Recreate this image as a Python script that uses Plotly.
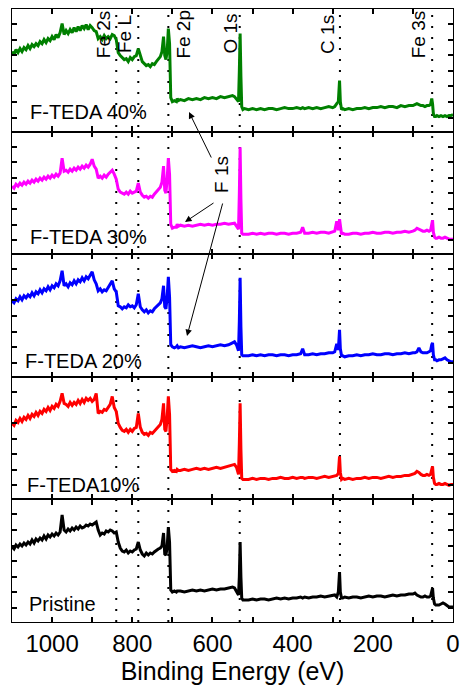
import plotly.graph_objects as go

# ---------------- data (arbitrary intensity units) -------------
energy = (list(range(1100, 725, -5))                                   # 75 pts
          + [726, 722, 719, 716, 713, 710, 707, 704, 700, 695, 690, 688, 685]  # 13
          + list(range(680, 545, -10))                                 # 14
          + [545, 540, 535, 533, 531, 529, 527, 524, 520]              # 9
          + list(range(510, 375, -10))                                 # 14
          + [375] + list(range(370, 295, -10))                         # 9
          + [295, 290, 286, 283, 281, 278, 275, 270]                   # 8
          + list(range(260, 95, -10))                                  # 17
          + [95, 90, 85, 80, 75, 70, 65, 60, 56, 53, 51, 49, 46, 43, 40,
             35, 30, 25, 20, 15, 10, 5, 0])                            # 23

teda40 = ([80, 77, 82, 79, 83, 80, 84, 82, 86, 83,
           87, 85, 88, 86, 90, 88, 92, 89, 93, 91,
           95, 92, 97, 94, 99, 108, 97, 101, 98, 102,
           99, 104, 100, 105, 101, 106, 103, 107, 102, 106,
           104, 101, 100, 93, 95, 92, 96, 93, 95, 93,
           97, 96, 92, 79, 76, 74, 72, 73, 70, 74,
           72, 75, 76, 83, 75, 70, 68, 66, 67, 65,
           68, 67, 70, 72, 75]
          + [80, 95, 76, 72, 80, 103, 88, 34, 30, 31, 30, 33, 31]
          + [32, 31, 33, 32, 33, 32, 34, 33, 34, 33, 35, 34, 35, 36]
          + [35, 33, 30, 60, 98, 55, 25, 22, 23]
          + [22, 23, 22, 23, 22, 23, 23, 22, 23, 24, 23, 23, 24, 23]
          + [24, 23, 24, 23, 24, 23, 24, 25, 24]
          + [25, 28, 30, 51, 30, 22, 23, 22]
          + [23, 22, 23, 23, 24, 23, 24, 24, 25, 24, 25, 25, 24, 26, 25, 26, 26]
          + [27, 28, 27, 26, 26, 25, 26, 26, 27, 33, 28, 18, 15, 15, 16, 15,
             16, 15, 16, 15, 16, 16, 17])

teda30 = ([68, 66, 70, 68, 71, 69, 72, 70, 73, 71,
           74, 72, 75, 73, 76, 74, 77, 75, 78, 76,
           79, 77, 80, 78, 81, 96, 83, 84, 82, 85,
           83, 86, 84, 87, 85, 88, 86, 89, 87, 90,
           95, 88, 85, 76, 78, 76, 79, 77, 80, 82,
           84, 80, 75, 65, 62, 61, 60, 62, 60, 63,
           61, 62, 63, 71, 62, 59, 57, 58, 56, 58,
           57, 60, 62, 64, 67]
          + [72, 88, 64, 61, 75, 96, 80, 30, 26, 27, 27, 30, 28]
          + [29, 28, 29, 28, 29, 30, 29, 30, 29, 30, 30, 31, 30, 31]
          + [31, 28, 25, 60, 107, 55, 21, 20, 20]
          + [20, 21, 20, 21, 20, 21, 21, 20, 21, 21, 20, 21, 21, 22]
          + [27, 21, 21, 22, 21, 22, 22, 21, 22]
          + [23, 33, 24, 35, 30, 20, 21, 20]
          + [20, 21, 21, 20, 21, 21, 22, 21, 21, 22, 22, 21, 22, 22, 23, 22, 23]
          + [24, 26, 25, 24, 23, 23, 24, 23, 24, 30, 34, 22, 17, 16, 16, 17,
             16, 16, 17, 16, 15, 15, 15])

teda20 = ([76, 74, 78, 76, 80, 77, 81, 79, 82, 80,
           84, 81, 85, 83, 87, 84, 88, 86, 90, 87,
           91, 89, 93, 91, 96, 106, 91, 93, 90, 94,
           92, 96, 93, 97, 95, 99, 96, 100, 98, 102,
           105, 97, 93, 86, 88, 85, 87, 86, 89, 93,
           96, 88, 85, 71, 70, 68, 70, 69, 72, 70,
           71, 69, 72, 83, 70, 67, 65, 67, 64, 66,
           65, 68, 70, 72, 74]
          + [78, 91, 70, 68, 80, 100, 80, 32, 30, 29, 30, 31, 29]
          + [30, 29, 30, 31, 30, 29, 30, 31, 30, 31, 32, 31, 32, 34]
          + [35, 32, 26, 55, 99, 50, 22, 21, 21]
          + [21, 22, 21, 22, 21, 22, 22, 21, 22, 22, 21, 22, 22, 23]
          + [28, 22, 22, 23, 22, 23, 23, 24, 24]
          + [25, 33, 27, 47, 28, 21, 21, 20]
          + [21, 21, 22, 21, 22, 22, 23, 22, 22, 23, 23, 22, 23, 23, 24, 23, 24]
          + [24, 25, 29, 25, 24, 24, 24, 25, 26, 32, 34, 22, 17, 17, 16, 17,
             17, 18, 19, 17, 16, 15, 15])

teda10 = ([76, 74, 79, 77, 81, 78, 82, 80, 84, 81,
           85, 83, 87, 84, 88, 86, 90, 88, 92, 89,
           93, 91, 95, 93, 98, 106, 96, 95, 93, 97,
           94, 97, 95, 99, 96, 100, 97, 101, 99, 101,
           98, 100, 106, 86, 88, 87, 90, 89, 92, 95,
           103, 92, 88, 76, 72, 69, 68, 70, 67, 70,
           68, 71, 72, 86, 72, 67, 65, 66, 64, 67,
           66, 68, 70, 72, 75]
          + [80, 96, 70, 68, 82, 103, 85, 30, 28, 29, 28, 30, 29]
          + [29, 30, 29, 30, 31, 30, 31, 30, 31, 32, 31, 32, 33, 34]
          + [35, 32, 25, 55, 96, 50, 21, 20, 20]
          + [20, 21, 20, 21, 21, 20, 21, 21, 22, 21, 21, 22, 21, 22]
          + [22, 21, 22, 22, 21, 22, 23, 22, 23]
          + [23, 24, 26, 43, 27, 20, 21, 20]
          + [21, 20, 21, 21, 22, 21, 22, 22, 21, 22, 23, 22, 23, 23, 24, 24, 25]
          + [26, 28, 27, 25, 24, 24, 25, 24, 25, 30, 33, 22, 16, 15, 15, 16,
             15, 15, 16, 15, 14, 15, 15])

pristine = ([75, 73, 77, 75, 78, 76, 79, 77, 80, 78,
             82, 79, 83, 81, 84, 82, 86, 83, 87, 85,
             88, 86, 89, 87, 90, 107, 92, 90, 93, 91,
             94, 92, 95, 93, 96, 94, 95, 97, 96, 98,
             97, 99, 100, 92, 87, 89, 88, 91, 90, 92,
             91, 89, 90, 80, 74, 71, 70, 72, 69, 71,
             70, 72, 73, 80, 72, 68, 66, 69, 67, 69,
             68, 70, 72, 73, 74]
            + [76, 89, 68, 67, 75, 95, 80, 32, 30, 31, 30, 31, 31]
            + [31, 30, 31, 32, 31, 32, 31, 32, 33, 32, 33, 33, 34, 35]
            + [34, 31, 27, 45, 80, 45, 24, 22, 22]
            + [22, 23, 22, 23, 23, 22, 23, 24, 23, 24, 23, 24, 24, 25]
            + [24, 25, 24, 25, 25, 26, 25, 26, 27]
            + [27, 25, 30, 50, 30, 24, 24, 25]
            + [24, 25, 25, 24, 25, 26, 25, 26, 26, 25, 26, 27, 26, 27, 27, 28, 28]
            + [29, 27, 26, 25, 25, 26, 25, 25, 26, 30, 34, 24, 18, 17, 17, 17,
               18, 19, 18, 16, 15, 15, 15])

series_names = ["F-TEDA 40%", "F-TEDA 30%", "F-TEDA 20%", "F-TEDA10%", "Pristine"]
series_values = [teda40, teda30, teda20, teda10, pristine]
series_colors = ["#008000", "#FF00FF", "#0000FF", "#FF0000", "#000000"]

peak_names = ["Fe 2s", "Fe L", "Fe 2p", "O 1s", "C 1s", "Fe 3s"]
peak_lines = [840, 785, 710, 532, 282, 52]
peak_label_x = [870, 818, 672, 555, 312, 84]

x_tickvals = [1000, 900, 800, 700, 600, 500, 400, 300, 200, 100, 0]
x_ticktext = ["1000", "", "800", "", "600", "", "400", "", "200", "", "0"]

for v in series_values:
    assert len(v) == len(energy), (len(v), len(energy))

# ---------------- figure -------------
W, H = 461, 687
ML, MR, MT, MB = 12, 8, 9, 65
PW, PH = W - ML - MR, H - MT - MB
FONT = "Liberation Sans, Arial, sans-serif"


def px_x(px):
    return (px - ML) / PW


def px_y(py):
    return (H - MB - py) / PH


fig = go.Figure()
n = len(series_values)
layout = dict(
    width=W, height=H,
    margin=dict(l=ML, r=MR, t=MT, b=MB, autoexpand=False),
    paper_bgcolor="white", plot_bgcolor="white",
    showlegend=False,
    font=dict(family=FONT, color="black"),
)

for i, (name, vals, col) in enumerate(zip(series_names, series_values, series_colors)):
    k = i + 1
    xa = "x" if k == 1 else f"x{k}"
    ya = "y" if k == 1 else f"y{k}"
    fig.add_trace(go.Scatter(x=energy, y=vals, mode="lines", name=name,
                             line=dict(color=col, width=3),
                             xaxis=xa, yaxis=ya))
    top = 1 - i / n
    bot = 1 - (i + 1) / n
    xkey = "xaxis" if k == 1 else f"xaxis{k}"
    ykey = "yaxis" if k == 1 else f"yaxis{k}"
    layout[xkey] = dict(
        range=[1100, 0], anchor=ya, domain=[0, 1], automargin=False,
        tickmode="array", tickvals=x_tickvals,
        ticktext=x_ticktext if k == n else [""] * len(x_tickvals),
        showticklabels=(k == n),
        ticks="inside", ticklen=5, tickwidth=1.5, tickcolor="black",
        showline=True, linecolor="black", linewidth=1.3, mirror="allticks",
        showgrid=False, zeroline=False,
        tickfont=dict(size=24, family=FONT, color="black"),
    )
    if k != 1:
        layout[xkey]["matches"] = "x"
    if k == n:
        layout[xkey]["title"] = dict(text="Binding Energy (eV)",
                                     font=dict(size=25, family=FONT, color="black"),
                                     standoff=2)
    layout[ykey] = dict(
        range=[0, 122.6], anchor=xa, domain=[bot, top], automargin=False,
        tickmode="linear", tick0=14, dtick=15.6,
        showticklabels=False,
        ticks="inside", ticklen=5, tickwidth=1.5, tickcolor="black",
        showline=True, linecolor="black", linewidth=1.3, mirror="allticks",
        showgrid=False, zeroline=False,
    )

fig.update_layout(**layout)

# dotted reference lines through all panels
for e in peak_lines:
    fig.add_shape(type="line", xref="x", yref="paper", x0=e, x1=e, y0=0, y1=1,
                  line=dict(color="black", width=2, dash="2px,9px"), layer="below")

# rotated peak labels
for name, lx in zip(peak_names, peak_label_x):
    fig.add_annotation(x=lx, xref="x", y=px_y(34), yref="paper", text=name,
                       textangle=-90, showarrow=False, xanchor="center", yanchor="middle",
                       font=dict(size=19, family=FONT, color="black"))

# panel labels
label_y = [112, 237, 361, 485, 604]
label_x = [28, 28, 23, 25, 27]
for name, lx, ly in zip(series_names, label_x, label_y):
    fig.add_annotation(x=px_x(lx), xref="paper", y=px_y(ly), yref="paper", text=name,
                       showarrow=False, xanchor="left", yanchor="middle",
                       font=dict(size=20, family=FONT, color="black"))

# F 1s label and arrows
fig.add_annotation(x=px_x(222), xref="paper", y=px_y(175), yref="paper", text="F 1s",
                   textangle=-90, showarrow=False, xanchor="center", yanchor="middle",
                   font=dict(size=19, family=FONT, color="black"))
arrows = [((212, 159), (189, 112)), ((215, 202), (185, 222)), ((223, 202), (187, 336))]
for (tx, ty), (hx, hy) in arrows:
    fig.add_annotation(x=px_x(hx), xref="paper", y=px_y(hy), yref="paper",
                       ax=tx - hx, ay=ty - hy, axref="pixel", ayref="pixel",
                       text="", showarrow=True, arrowhead=2, arrowsize=1.3,
                       arrowwidth=1, arrowcolor="black", standoff=0)

fig.write_html("out.html")
